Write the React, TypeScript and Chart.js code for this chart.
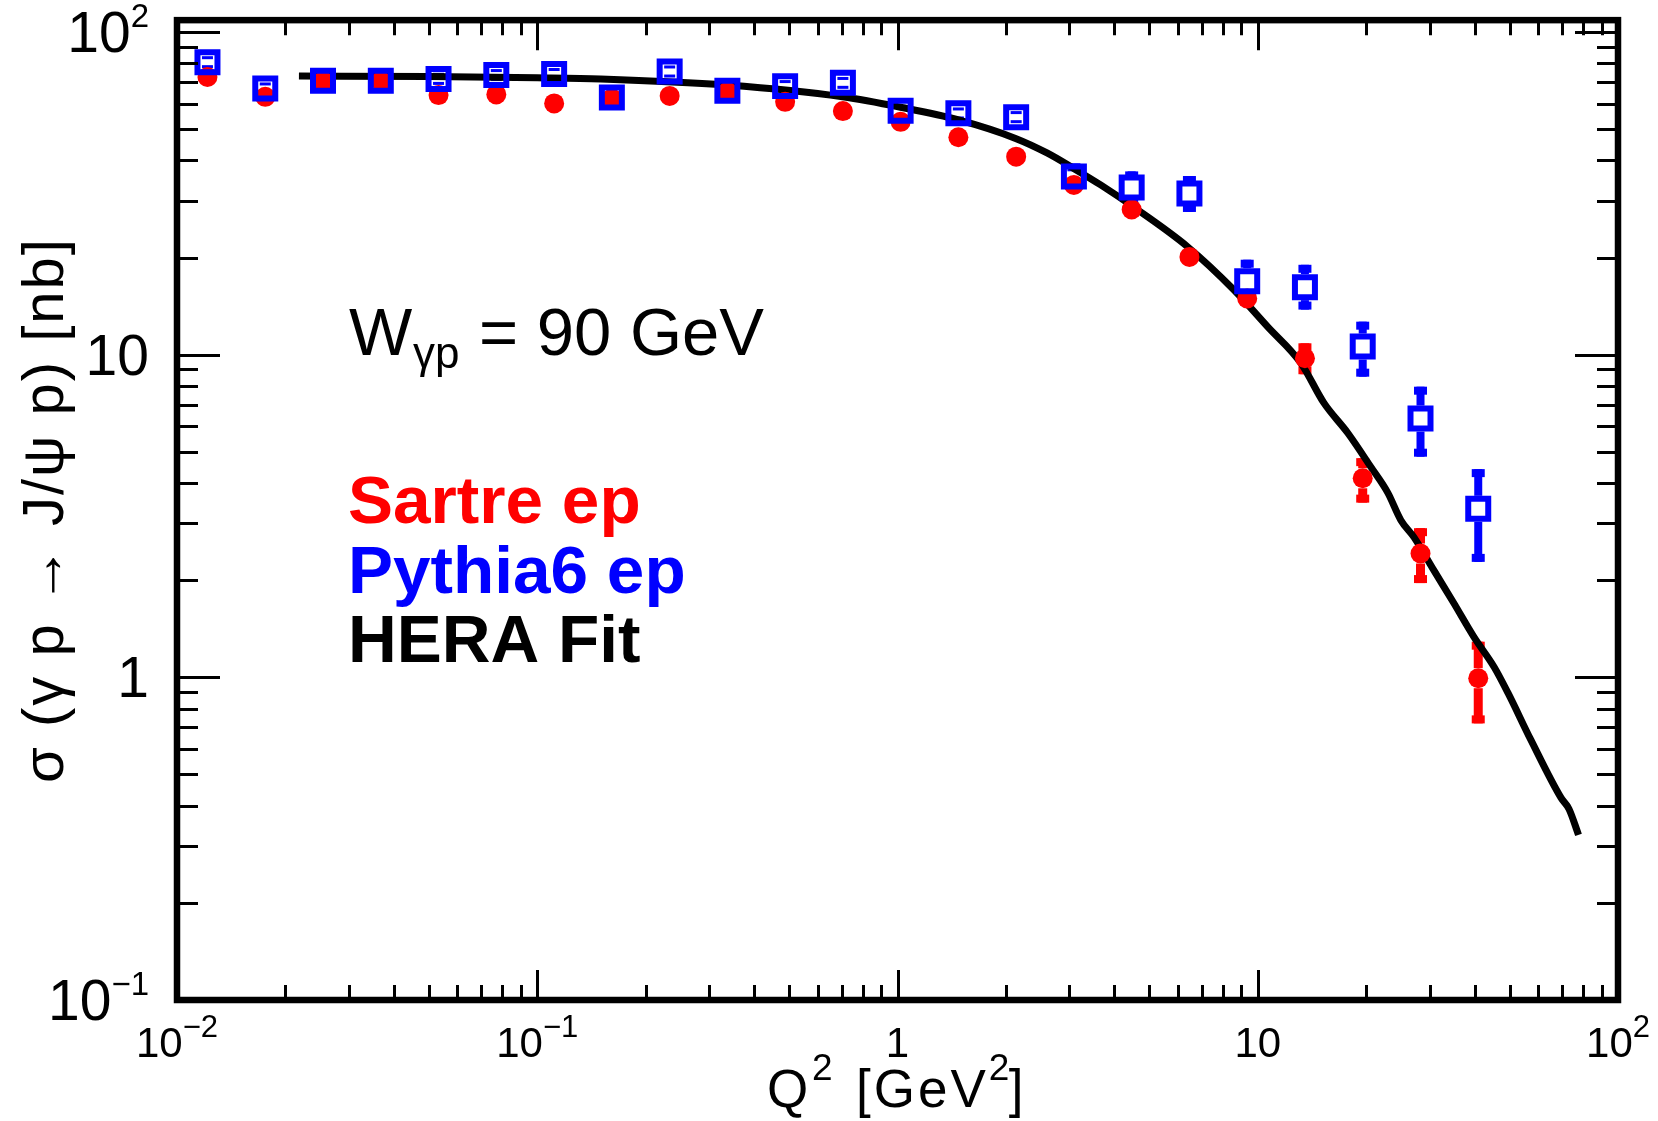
import React, { useEffect, useRef } from "react";
import { Chart, registerables } from "chart.js";

Chart.register(...registerables);

// ---- data ----
const q2Bins = [
  0.01215, 0.01758, 0.02543, 0.03679, 0.05321, 0.07698, 0.1114, 0.1611,
  0.2331, 0.3371, 0.4876, 0.7054, 1.0202, 1.4757, 2.1348, 3.088, 4.467,
  6.462, 9.348, 13.52, 19.56, 28.3, 40.93,
];

const sartre = [
  72.6, 63.0, 70.5, 70.5, 63.8, 64.1, 60.1, 62.3, 63.4, 65.3, 60.8, 56.9,
  52.7, 47.2, 41.1, 33.6, 28.2, 20.1, 14.95, 9.75, 4.14, 2.42, 0.994,
];
const sartreHigh = [
  74.1, 64.3, 71.9, 71.9, 65.1, 65.4, 61.3, 63.5, 64.7, 66.6, 62.0, 58.0,
  53.8, 48.1, 41.9, 34.4, 29.0, 20.8, 15.6, 10.85, 4.78, 2.9, 1.29,
];
const sartreLow = [
  71.2, 61.8, 69.1, 69.1, 62.5, 62.8, 58.9, 61.1, 62.2, 64.0, 59.6, 55.8,
  51.7, 46.3, 40.3, 32.8, 27.4, 19.4, 14.3, 8.7, 3.48, 1.96, 0.72,
];

const pythia = [
  80.7, 66.9, 70.6, 70.6, 71.6, 73.6, 74.2, 62.7, 75.5, 65.8, 68.0, 69.6,
  57.0, 56.0, 54.5, 35.7, 33.0, 31.6, 16.9, 16.2, 10.6, 6.34, 3.33,
];
const pythiaHigh = [
  84.2, 69.8, 73.7, 73.7, 74.8, 76.8, 77.4, 65.4, 78.8, 68.7, 71.0, 72.6,
  59.5, 58.4, 56.9, 39.2, 37.0, 35.8, 19.7, 19.0, 12.66, 7.96, 4.42,
];
const pythiaLow = [
  77.3, 64.1, 67.6, 67.6, 68.6, 70.5, 71.1, 60.1, 72.3, 63.0, 65.1, 66.7,
  54.6, 53.6, 52.2, 32.5, 29.4, 27.7, 14.2, 13.8, 8.55, 4.83, 2.28,
];

const fitQ2 = [
  0.0218, 0.05, 0.1, 0.15, 0.337, 0.7035, 1.019, 1.477, 2.127, 2.6, 3.083,
  3.664, 4.52, 6.39, 8.58, 10.66, 13.17, 15.26, 17.78, 20.6, 22.97, 24.96,
  27.13, 30.8, 35.0, 39.8, 45.3, 49.5, 57.3, 69.5, 73.1, 77.7,
];
const fitSigma = [
  73.1, 72.8, 72.2, 71.6, 68.5, 63.0, 58.5, 53.4, 46.8, 42.2, 37.8, 33.6,
  28.7, 21.6, 15.9, 12.2, 9.43, 7.09, 5.72, 4.49, 3.73, 3.07, 2.72, 2.15,
  1.7, 1.335, 1.077, 0.895, 0.64, 0.423, 0.391, 0.325,
];

const xTickLabels = [
  { v: 0.01, base: "10", exp: "\u22122" },
  { v: 0.1, base: "10", exp: "\u22121" },
  { v: 1, base: "1", exp: "" },
  { v: 10, base: "10", exp: "" },
  { v: 100, base: "10", exp: "2" },
];
const yTickLabels = [
  { v: 0.1, base: "10", exp: "\u22121" },
  { v: 1, base: "1", exp: "" },
  { v: 10, base: "10", exp: "" },
  { v: 100, base: "10", exp: "2" },
];

const X_MIN = 0.01;
const X_MAX = 100;
const Y_MIN = 0.1;
const Y_MAX = 108.9;

const FONT = '"Liberation Sans", Arial, Helvetica, sans-serif';
const RED = "#ff0000";
const BLUE = "#0000ff";

function drawPow(
  ctx: CanvasRenderingContext2D,
  base: string,
  exp: string,
  x: number,
  y: number,
  baseSize: number,
  expSize: number,
  raise: number,
  align: "center" | "right"
) {
  ctx.font = `${baseSize}px ${FONT}`;
  const wb = ctx.measureText(base).width;
  let we = 0;
  if (exp) {
    ctx.font = `${expSize}px ${FONT}`;
    we = ctx.measureText(exp).width;
  }
  const total = wb + we;
  const x0 = align === "center" ? x - total / 2 : x - total;
  ctx.textAlign = "left";
  ctx.textBaseline = "alphabetic";
  ctx.font = `${baseSize}px ${FONT}`;
  ctx.fillText(base, x0, y);
  if (exp) {
    ctx.font = `${expSize}px ${FONT}`;
    ctx.fillText(exp, x0 + wb, y - raise);
  }
}

function drawErrors(
  chart: any,
  xs: number[],
  ys: number[],
  lo: number[],
  hi: number[],
  color: string,
  lineW: number,
  capW: number,
  capH: number,
  gap: number
) {
  const ctx: CanvasRenderingContext2D = chart.ctx;
  const sx = chart.scales.x;
  const sy = chart.scales.y;
  ctx.save();
  ctx.fillStyle = color;
  for (let i = 0; i < xs.length; i++) {
    const px = sx.getPixelForValue(xs[i]);
    const pc = sy.getPixelForValue(ys[i]);
    const ph = sy.getPixelForValue(hi[i]);
    const pl = sy.getPixelForValue(lo[i]);
    if (pc - ph > gap) {
      ctx.fillRect(px - lineW / 2, ph, lineW, pc - gap - ph);
      ctx.fillRect(px - capW / 2, ph, capW, capH);
    } else {
      ctx.fillRect(px - capW / 2 + 1, ph, capW - 2, 3);
    }
    if (pl - pc > gap) {
      ctx.fillRect(px - lineW / 2, pc + gap, lineW, pl - pc - gap);
      ctx.fillRect(px - capW / 2, pl - capH, capW, capH);
    } else {
      ctx.fillRect(px - capW / 2 + 1, pl - 3, capW - 2, 3);
    }
  }
  ctx.restore();
}

const errorBarsPlugin = {
  id: "errorBars",
  beforeDatasetsDraw(chart: any) {
    drawErrors(chart, q2Bins, sartre, sartreLow, sartreHigh, RED, 9, 13, 8, 10);
    drawErrors(chart, q2Bins, pythia, pythiaLow, pythiaHigh, BLUE, 8, 13, 8, 13);
  },
};

const framePlugin = {
  id: "frameTicks",
  afterDraw(chart: any) {
    const ctx: CanvasRenderingContext2D = chart.ctx;
    const { left, right, top, bottom } = chart.chartArea;
    const sx = chart.scales.x;
    const sy = chart.scales.y;
    ctx.save();
    ctx.strokeStyle = "#000";
    ctx.fillStyle = "#000";
    ctx.lineWidth = 3;
    ctx.lineCap = "butt";
    ctx.beginPath();
    for (let d = -1; d <= 2; d++) {
      for (let m = 1; m <= 9; m++) {
        const v = m * Math.pow(10, d);
        if (v < Y_MIN * 0.999 || v > Y_MAX) continue;
        const py = Math.round(sy.getPixelForValue(v)) + 0.5;
        const len = m === 1 ? 43 : 21;
        ctx.moveTo(left, py);
        ctx.lineTo(left + len, py);
        ctx.moveTo(right, py);
        ctx.lineTo(right - len, py);
      }
    }
    for (let d = -2; d <= 2; d++) {
      for (let m = 1; m <= 9; m++) {
        const v = m * Math.pow(10, d);
        if (v < X_MIN * 0.999 || v > X_MAX * 1.001) continue;
        const px = Math.round(sx.getPixelForValue(v)) + 0.5;
        const len = m === 1 ? 30 : 15;
        ctx.moveTo(px, bottom);
        ctx.lineTo(px, bottom - len);
        ctx.moveTo(px, top);
        ctx.lineTo(px, top + len);
      }
    }
    ctx.stroke();
    ctx.lineWidth = 6.5;
    ctx.lineJoin = "miter";
    ctx.strokeRect(left, top, right - left, bottom - top);

    for (const t of yTickLabels) {
      const py = sy.getPixelForValue(t.v);
      drawPow(ctx, t.base, t.exp, 149, py + 20, 57, 33, 25, "right");
    }
    for (const t of xTickLabels) {
      const px = sx.getPixelForValue(t.v);
      drawPow(ctx, t.base, t.exp, px, 1057, 42, 31, 20, "center");
    }

    // y axis title
    ctx.textBaseline = "alphabetic";
    ctx.save();
    ctx.translate(63, 510);
    ctx.rotate(-Math.PI / 2);
    ctx.textAlign = "center";
    ctx.font = `58px ${FONT}`;
    (ctx as any).letterSpacing = "2px";
    ctx.fillText("\u03c3 (\u03b3 p \u2192 J/\u03c8 p) [nb]", 0, 0);
    (ctx as any).letterSpacing = "0px";
    ctx.restore();

    // x axis title
    ctx.textAlign = "left";
    ctx.font = `53px ${FONT}`;
    ctx.fillText("Q", 767, 1107);
    ctx.font = `37px ${FONT}`;
    ctx.fillText("2", 812, 1080);
    ctx.font = `53px ${FONT}`;
    (ctx as any).letterSpacing = "3px";
    ctx.fillText("[GeV", 856, 1107);
    (ctx as any).letterSpacing = "0px";
    const wg = ctx.measureText("[GeV").width + 11;
    ctx.font = `37px ${FONT}`;
    ctx.fillText("2", 856 + wg + 1, 1080);
    ctx.font = `53px ${FONT}`;
    ctx.fillText("]", 856 + wg + 21, 1107);

    // annotation
    ctx.font = `67px ${FONT}`;
    ctx.fillText("W", 349, 355);
    ctx.font = `44px ${FONT}`;
    ctx.fillText("\u03b3p", 413, 368);
    ctx.font = `67px ${FONT}`;
    ctx.fillText("= 90 GeV", 479, 355);

    ctx.font = `bold 67.5px ${FONT}`;
    ctx.fillStyle = RED;
    ctx.fillText("Sartre ep", 348, 523);
    ctx.fillStyle = BLUE;
    ctx.fillText("Pythia6 ep", 348, 593);
    ctx.fillStyle = "#000";
    ctx.fillText("HERA Fit", 348, 662);
    ctx.restore();
  },
};

export default function App() {
  const canvasRef = useRef<HTMLCanvasElement | null>(null);

  useEffect(() => {
    const canvas = canvasRef.current;
    if (!canvas) return;
    const chart = new Chart(canvas, {
      type: "scatter",
      data: {
        datasets: [
          {
            label: "Pythia6 ep",
            data: q2Bins.map((x, i) => ({ x, y: pythia[i] })),
            pointStyle: "rect",
            pointRadius: 14.14,
            borderColor: BLUE,
            backgroundColor: "rgba(0,0,0,0)",
            borderWidth: 6,
            showLine: false,
            order: 0,
          } as any,
          {
            label: "Sartre ep",
            data: q2Bins.map((x, i) => ({ x, y: sartre[i] })),
            pointStyle: "circle",
            pointRadius: 10,
            backgroundColor: RED,
            borderColor: RED,
            borderWidth: 0,
            showLine: false,
            order: 1,
          } as any,
          {
            label: "HERA Fit",
            data: fitQ2.map((x, i) => ({ x, y: fitSigma[i] })),
            showLine: true,
            borderColor: "#000",
            borderWidth: 7,
            pointRadius: 0,
            cubicInterpolationMode: "monotone",
            borderJoinStyle: "round",
            borderCapStyle: "butt",
            order: 2,
          } as any,
        ],
      },
      options: {
        responsive: false,
        maintainAspectRatio: false,
        animation: false,
        events: [],
        layout: { padding: { left: 177, top: 20, right: 40, bottom: 121 } },
        plugins: {
          legend: { display: false },
          tooltip: { enabled: false },
        },
        scales: {
          x: { type: "logarithmic", min: X_MIN, max: X_MAX, display: false },
          y: { type: "logarithmic", min: Y_MIN, max: Y_MAX, display: false },
        },
      },
      plugins: [errorBarsPlugin, framePlugin],
    });
    return () => chart.destroy();
  }, []);

  return (
    <div
      style={{
        position: "absolute",
        left: 0,
        top: 0,
        width: 1658,
        height: 1121,
        background: "#fff",
      }}
    >
      <canvas
        ref={canvasRef}
        width={1658}
        height={1121}
        style={{ display: "block", width: 1658, height: 1121 }}
      />
    </div>
  );
}
